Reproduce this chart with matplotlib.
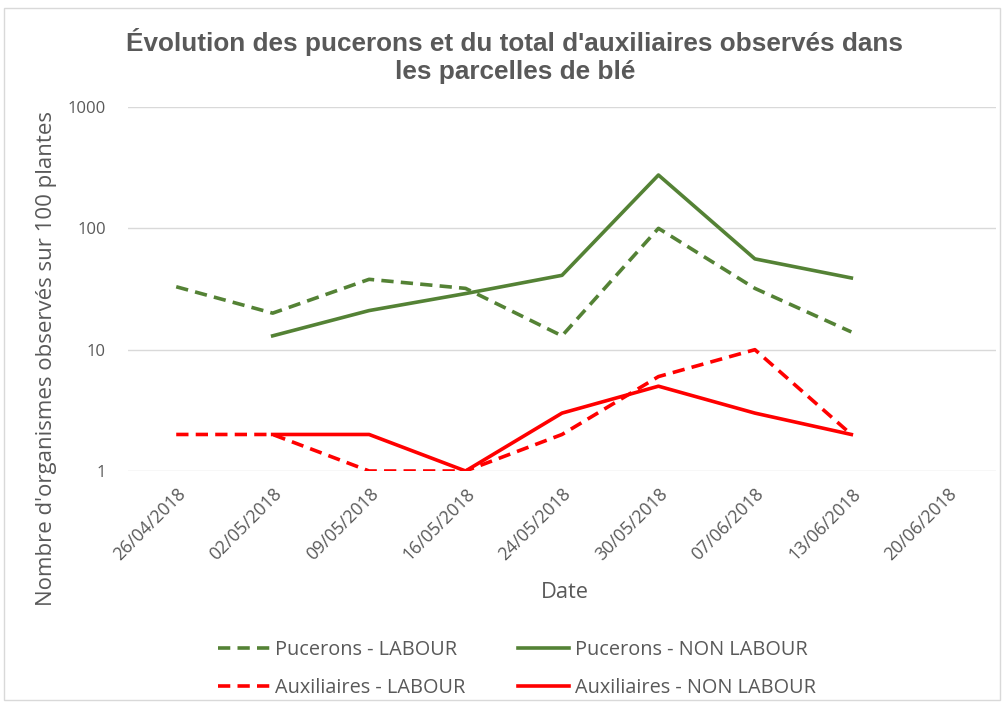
import matplotlib
matplotlib.use("Agg")
import matplotlib.pyplot as plt
from matplotlib.patches import Rectangle
import numpy as np

dates = ["26/04/2018", "02/05/2018", "09/05/2018", "16/05/2018", "24/05/2018",
         "30/05/2018", "07/06/2018", "13/06/2018", "20/06/2018"]
puc_labour = [33, 20, 38, 32, 13, 100, 32, 14, None]
puc_non_labour = [None, 13, 21, 29, 41, 275, 56, 39, None]
aux_labour = [2, 2, 1, 1, 2, 6, 10, 2, None]
aux_non_labour = [None, 2, 2, 1, 3, 5, 3, 2, None]

GREEN = "#548235"
RED = "#FF0000"
GRAY = "#595959"

plt.rcParams['font.family'] = ['Open Sans', 'DejaVu Sans']

fig = plt.figure(figsize=(10.04, 7.06), dpi=100)
fig.patches.append(Rectangle((4/1004, 6/706), 996/1004, 692/706, transform=fig.transFigure,
                             fill=False, edgecolor="#D9D9D9", lw=1))
ax = fig.add_axes([128/1004, 1-471/706, 868/1004, 364/706])

x = np.arange(len(dates))
def arr(v):
    return np.array([np.nan if a is None else a for a in v], dtype=float)

lw = 2.6
l1, = ax.plot(x, arr(puc_labour), color=GREEN, lw=lw, dashes=(3.4, 2.0), label="Pucerons - LABOUR")
l2, = ax.plot(x, arr(puc_non_labour), color=GREEN, lw=lw, label="Pucerons - NON LABOUR")
l3, = ax.plot(x, arr(aux_labour), color=RED, lw=lw, dashes=(3.4, 2.0), label="Auxiliaires - LABOUR")
l4, = ax.plot(x, arr(aux_non_labour), color=RED, lw=lw, label="Auxiliaires - NON LABOUR")

ax.set_yscale("log")
ax.set_ylim(1, 1000)
ax.set_xlim(-0.5, len(dates) - 0.5)
ax.set_yticks([1, 10, 100, 1000])
ax.set_yticklabels(["1", "10", "100", "1000"])
ax.minorticks_off()
ax.yaxis.grid(True, color="#D9D9D9", lw=1)
ax.set_axisbelow(True)
for s in ax.spines.values():
    s.set_visible(False)
ax.tick_params(axis="both", length=0, colors=GRAY, labelsize=12)
ax.tick_params(axis="y", pad=16)
ax.set_xticks(x)
ax.set_xticklabels(dates, rotation=45, ha="right", rotation_mode="anchor", fontsize=12.7)
ax.tick_params(axis="x", pad=10)

fig.text(47/1004, 1-358/706, "Nombre d'organismes observés sur 100 plantes", rotation=90,
         ha="center", va="center", fontsize=16, color=GRAY)
fig.text(565/1004, 1-593/706, "Date", ha="center", va="center", fontsize=15.7, color=GRAY)

fig.text(515/1004, 1-42/706, "Évolution des pucerons et du total d'auxiliaires observés dans",
         ha="center", va="center", fontsize=18.8, fontweight="bold", color=GRAY,
         family=["Liberation Sans", "DejaVu Sans"])
fig.text(515/1004, 1-72/706, "les parcelles de blé",
         ha="center", va="center", fontsize=18.8, fontweight="bold", color=GRAY,
         family=["Liberation Sans", "DejaVu Sans"])

fig.legend(handles=[l1, l3, l2, l4], loc="center", bbox_to_anchor=(517/1004, 1-669/706),
           ncol=2, frameon=False, fontsize=14.3, labelcolor=GRAY, handlelength=2.6,
           columnspacing=2.6, handletextpad=0.3, labelspacing=0.9)

fig.savefig("out.png", dpi=100)
